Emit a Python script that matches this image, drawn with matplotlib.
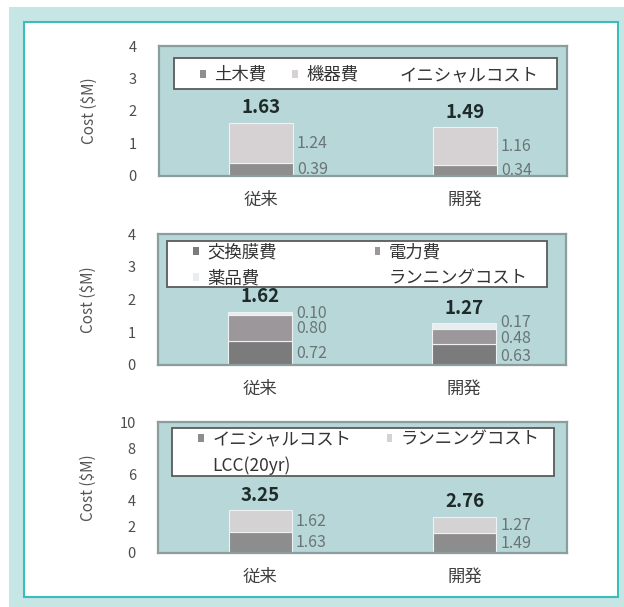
import matplotlib
matplotlib.use("Agg")
import matplotlib.pyplot as plt
from matplotlib.patches import Patch, Rectangle

plt.rcParams['font.family'] = ['Noto Sans CJK JP', 'DejaVu Sans']

categories = ['従来', '開発']

# initial cost ($M)
civil = [0.39, 0.34]
equipment = [1.24, 1.16]
initial_total = [1.63, 1.49]

# running cost ($M)
membrane = [0.72, 0.63]
power = [0.80, 0.48]
chemicals = [0.10, 0.17]
running_total = [1.62, 1.27]

# life cycle cost ($M)
lcc_initial = [1.63, 1.49]
lcc_running = [1.62, 1.27]
lcc_total = [3.25, 2.76]

BG = '#b8d7d8'
TEAL = '#c6e6e6'


def spread(centers, gap):
    # push labels apart so they don't overlap, then recentre the group
    pos = list(centers)
    for i in range(1, len(pos)):
        pos[i] = max(pos[i], pos[i - 1] + gap)
    shift = sum(pos) / len(pos) - sum(centers) / len(centers)
    return [p - shift for p in pos]


def draw_panel(ax, series, names, colors, totals, total_name, ymax, ystep,
               order, ncol, leg_x, leg_y, box, gap):
    width = 0.31
    x = range(len(categories))
    bottoms = [0.0] * len(categories)
    centers = [[] for _ in categories]
    for vals, name, c in zip(series, names, colors):
        ax.bar(x, vals, width, bottom=bottoms, color=c, edgecolor='#eef2f2',
               linewidth=0.8, zorder=2)
        for i, v in enumerate(vals):
            centers[i].append(bottoms[i] + v / 2)
        bottoms = [b + v for b, v in zip(bottoms, vals)]

    for i in x:
        ys = spread(centers[i], gap)
        for vals, y in zip(series, ys):
            ax.annotate(f'{vals[i]:.2f}', xy=(i + width / 2, y), xytext=(3, 0),
                        textcoords='offset points', ha='left', va='center',
                        fontsize=11.5, color='#6b7575', zorder=3)
        ax.annotate(f'{totals[i]:.2f}', xy=(i, totals[i]), xytext=(0, 4),
                    textcoords='offset points', ha='center', va='bottom',
                    fontsize=13.5, fontweight='bold', color='#1f2b2b', zorder=3)

    ax.set_xlim(-0.5, 1.5)
    ax.set_ylim(0, ymax)
    ax.set_yticks(range(0, ymax + 1, ystep))
    ax.set_xticks(list(x))
    ax.set_xticklabels(categories)
    ax.set_facecolor(BG)
    for s in ax.spines.values():
        s.set_color('#8b9d9d')
        s.set_linewidth(1.6)
    ax.tick_params(axis='y', length=0, pad=16, labelsize=10.5, labelcolor='#4d4d4d')
    ax.tick_params(axis='x', length=0, pad=11, labelsize=12.5, labelcolor='#404040')
    ax.set_ylabel('Cost ($M)', fontsize=11, color='#555555')
    ax.yaxis.set_label_coords(-0.15, 0.5)

    # white legend box
    ax.add_patch(Rectangle((box[0], box[1]), box[2] - box[0], box[3] - box[1],
                           transform=ax.transAxes, facecolor='white',
                           edgecolor='#5a5a5a', linewidth=1.3, zorder=4))
    handles = [Patch(facecolor=c, edgecolor='none') for c in colors]
    handles.append(Patch(facecolor='none', edgecolor='none'))
    labels = list(names) + [total_name]
    handles = [handles[k] for k in order]
    labels = [labels[k] for k in order]
    leg = ax.legend(handles, labels, ncol=ncol, mode='expand', frameon=False,
                    loc='center left', bbox_to_anchor=(leg_x[0], leg_y, leg_x[1] - leg_x[0], 0),
                    borderpad=0, borderaxespad=0, fontsize=12.5, labelspacing=0.45,
                    handlelength=0.33, handleheight=0.33, handletextpad=0.5,
                    columnspacing=0.5)
    for t in leg.get_texts():
        t.set_color('#333333')
    leg.set_zorder(5)


fig = plt.figure(figsize=(6.24, 6.07), dpi=100)
fig.patches.append(Rectangle((9 / 624, 0), 615 / 624, 600 / 607, transform=fig.transFigure,
                             facecolor=TEAL, edgecolor='none', zorder=-2))
fig.patches.append(Rectangle((24 / 624, 1 - 597 / 607), 594 / 624, 575 / 607,
                             transform=fig.transFigure, facecolor='white',
                             edgecolor='#3dbcbc', linewidth=1.5, zorder=-1))

ax1 = fig.add_axes([159 / 624, 1 - 176 / 607, 408 / 624, 130 / 607])
ax2 = fig.add_axes([158 / 624, 1 - 365 / 607, 408 / 624, 131 / 607])
ax3 = fig.add_axes([158 / 624, 1 - 553 / 607, 409 / 624, 131 / 607])

draw_panel(ax1, [civil, equipment], ['土木費', '機器費'], ['#8e8e8e', '#d6d1d3'],
           initial_total, 'イニシャルコスト', 4, 1, [0, 1, 2], 3,
           (0.10, 0.93), 0.777, (0.037, 0.669, 0.975, 0.908), 0.47)

draw_panel(ax2, [membrane, power, chemicals], ['交換膜費', '電力費', '薬品費'],
           ['#7b7b7b', '#9c979a', '#e8eef0'],
           running_total, 'ランニングコスト', 4, 1, [0, 2, 1, 3], 2,
           (0.086, 0.907), 0.76, (0.022, 0.595, 0.953, 0.947), 0.47)

draw_panel(ax3, [lcc_initial, lcc_running], ['イニシャルコスト', 'ランニングコスト'],
           ['#8d8d8d', '#d4d2d3'],
           lcc_total, 'LCC(20yr)', 10, 2, [0, 2, 1], 2,
           (0.098, 0.934), 0.767, (0.034, 0.588, 0.968, 0.954), 1.15)

fig.savefig('out.png', dpi=100)
